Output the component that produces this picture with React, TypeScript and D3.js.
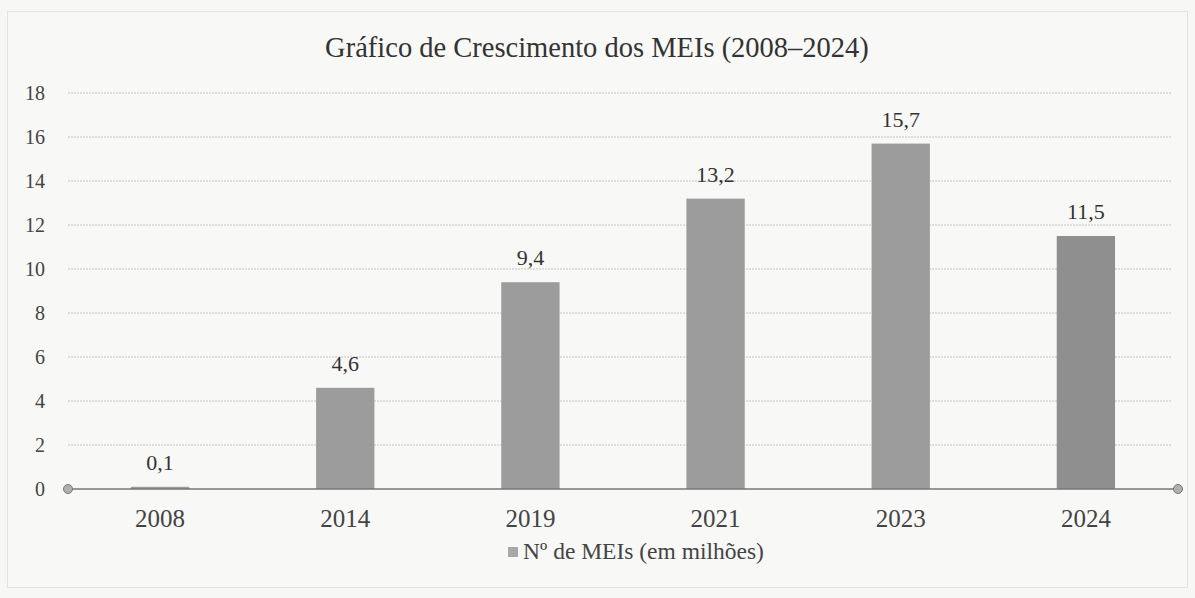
import React from 'react'
import * as d3 from 'd3'

// dados do gráfico (milhões de MEIs)
const anos = ['2008', '2014', '2019', '2021', '2023', '2024']
const meis = [0.1, 4.6, 9.4, 13.2, 15.7, 11.5]
const rotulos = ['0,1', '4,6', '9,4', '13,2', '15,7', '11,5']
const ticksY = [0, 2, 4, 6, 8, 10, 12, 14, 16, 18]

const W = 1195
const H = 598

export default function App() {
  const x0 = 68
  const x1 = 1178

  const x = d3.scaleBand().domain(anos).range([x0, x1]).paddingInner(0.685).paddingOuter(0.34)
  const y = d3.scaleLinear().domain([0, 18]).range([489, 93])

  const font = '"Liberation Serif", "Times New Roman", serif'

  return (
    <svg width={W} height={H} style={{ position: 'absolute', left: 0, top: 0, background: '#f7f7f6' }}>
      <rect x={7.5} y={11.5} width={1180} height={576} fill="#f8f8f7" stroke="#cfcfcf" strokeDasharray="1 1" />

      <text x={597} y={57} textAnchor="middle" fontFamily={font} fontSize={28.5} fill="#333">
        Gráfico de Crescimento dos MEIs (2008–2024)
      </text>

      {ticksY.map(t => (
        <g key={t}>
          {t > 0 && (
            <line x1={x0} x2={1172} y1={y(t)} y2={y(t)} stroke="#c4c4c4" strokeWidth={1} strokeDasharray="2 1" />
          )}
          <text x={45} y={y(t)} dy="0.35em" textAnchor="end" fontFamily={font} fontSize={20} fill="#444">
            {t}
          </text>
        </g>
      ))}

      {anos.map((a, i) => (
        <g key={a}>
          <rect
            x={x(a)}
            y={y(meis[i])}
            width={x.bandwidth()}
            height={y(0) - y(meis[i])}
            fill={i === 5 ? '#8f8f8f' : '#9c9c9c'}
          />
          <text
            x={x(a)! + x.bandwidth() / 2}
            y={y(meis[i]) - 17}
            textAnchor="middle"
            fontFamily={font}
            fontSize={22}
            fill="#333"
          >
            {rotulos[i]}
          </text>
          <text
            x={x(a)! + x.bandwidth() / 2}
            y={527}
            textAnchor="middle"
            fontFamily={font}
            fontSize={25}
            fill="#444"
          >
            {a}
          </text>
        </g>
      ))}

      <line x1={x0} x2={x1} y1={y(0)} y2={y(0)} stroke="#777" strokeWidth={1.5} />
      <circle cx={x0} cy={y(0)} r={4.5} fill="#b0b0b0" stroke="#777" strokeWidth={1} />
      <circle cx={x1} cy={y(0)} r={4.5} fill="#b0b0b0" stroke="#777" strokeWidth={1} />

      <rect x={508} y={547} width={10} height={10} fill="#a8a8a8" />
      <text x={523} y={559} fontFamily={font} fontSize={23.5} fill="#444">
        Nº de MEIs (em milhões)
      </text>
    </svg>
  )
}
